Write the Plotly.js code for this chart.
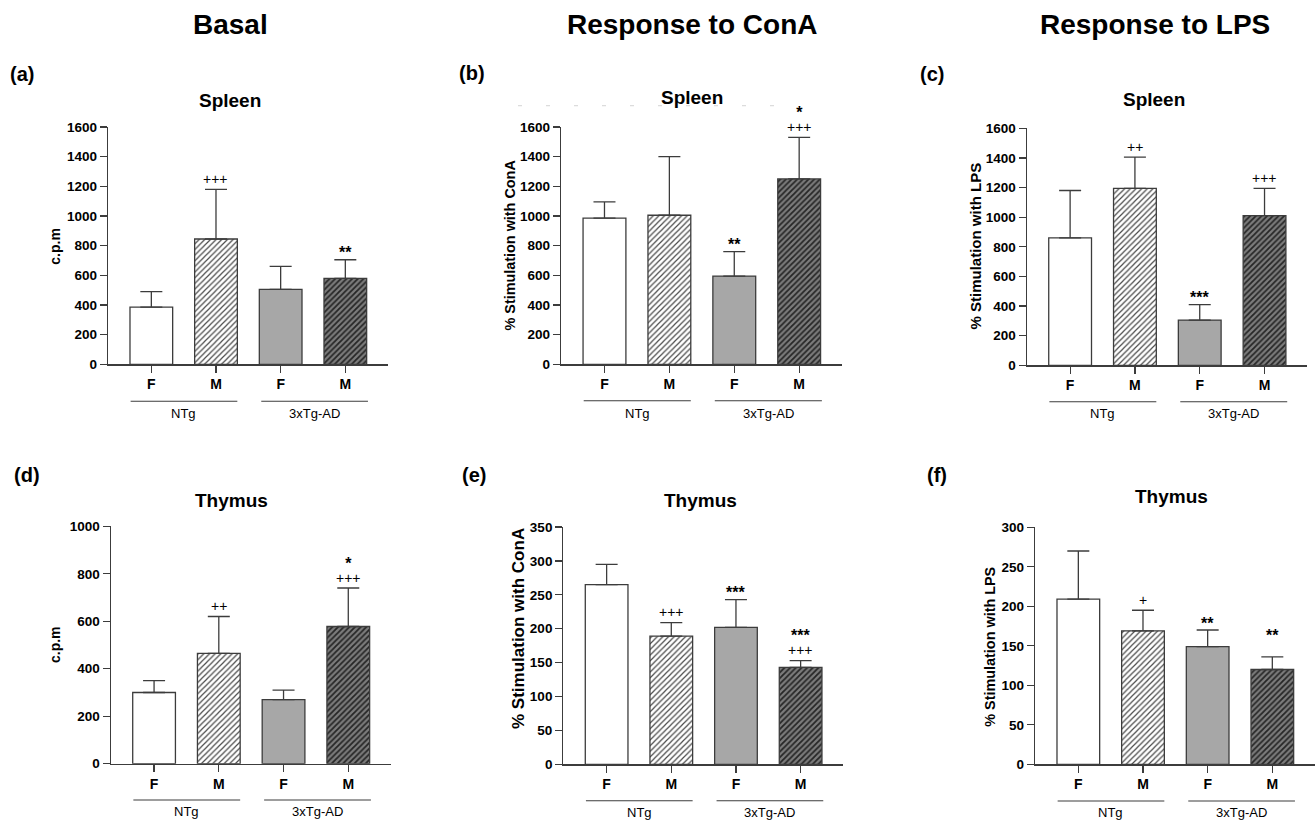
<!DOCTYPE html>
<html>
<head>
<meta charset="utf-8">
<script src="https://cdn.plot.ly/plotly-3.0.1.min.js"></script>
<style>html,body{margin:0;padding:0;background:#fff;}#chart{width:1315px;height:820px;}</style>
</head>
<body>
<div id="chart"></div>
<script>
// ---------------- DATA ----------------
const sexLabels = ['F', 'M', 'F', 'M'];
const genotypeLabels = ['NTg', '3xTg-AD'];
const columnTitles = ['Basal', 'Response to ConA', 'Response to LPS'];
const organTitles = ['Spleen', 'Spleen', 'Spleen', 'Thymus', 'Thymus', 'Thymus'];
const panelLetters = ['(a)', '(b)', '(c)', '(d)', '(e)', '(f)'];
const yTitles = ['c.p.m', '% Stimulation with ConA', '% Stimulation with LPS',
                 'c.p.m', '% Stimulation with ConA', '% Stimulation with LPS'];

const spleenBasalMean = [385, 845, 505, 580];
const spleenBasalSD   = [105, 335, 155, 125];
const spleenConAMean  = [985, 1005, 595, 1250];
const spleenConASD    = [110, 395, 165, 280];
const spleenLPSMean   = [860, 1195, 305, 1010];
const spleenLPSSD     = [320, 210, 105, 185];
const thymusBasalMean = [300, 465, 270, 578];
const thymusBasalSD   = [50, 155, 40, 162];
const thymusConAMean  = [265, 189, 202, 143];
const thymusConASD    = [30, 20, 41, 10];
const thymusLPSMean   = [209, 169, 149, 120];
const thymusLPSSD     = [61, 26, 21, 16];

// significance marks (+ vs sex, * vs genotype)
const spleenBasalPlus = ['', '+++', '', ''];
const spleenBasalStar = ['', '', '', '**'];
const spleenConAPlus  = ['', '', '', '+++'];
const spleenConAStar  = ['', '', '**', '*'];
const spleenLPSPlus   = ['', '++', '', '+++'];
const spleenLPSStar   = ['', '', '***', ''];
const thymusBasalPlus = ['', '++', '', '+++'];
const thymusBasalStar = ['', '', '', '*'];
const thymusConAPlus  = ['', '+++', '', '+++'];
const thymusConAStar  = ['', '', '***', '***'];
const thymusLPSPlus   = ['', '+', '', ''];
const thymusLPSStar   = ['', '', '**', '**'];

const yMax  = [1600, 1600, 1600, 1000, 350, 300];
const yStep = [200, 200, 200, 200, 50, 50];

// ---------------- LAYOUT (pixels) ----------------
const W = 1315, H = 820;
const px = v => v / W;
const py = v => 1 - v / H;

const means = [spleenBasalMean, spleenConAMean, spleenLPSMean, thymusBasalMean, thymusConAMean, thymusLPSMean];
const sds   = [spleenBasalSD, spleenConASD, spleenLPSSD, thymusBasalSD, thymusConASD, thymusLPSSD];
const pluses = [spleenBasalPlus, spleenConAPlus, spleenLPSPlus, thymusBasalPlus, thymusConAPlus, thymusLPSPlus];
const stars  = [spleenBasalStar, spleenConAStar, spleenLPSStar, thymusBasalStar, thymusConAStar, thymusLPSStar];

const geom = [
  {xd:[108,388],      yd:[127,364.3],   title:[230,100.7],   letter:[8,74],   yt:[55,245.7],  ytfs:14,   lineY:401.3, labY:413.3},
  {xd:[561,842],      yd:[127,364.3],   title:[691.7,97.3],  letter:[457,73], yt:[510,245.5], ytfs:14.4, lineY:400.8, labY:413},
  {xd:[1026.7,1307.3],yd:[128.3,365.3], title:[1154,99.3],   letter:[918,74], yt:[975,246.5], ytfs:15,   lineY:401.7, labY:413.5},
  {xd:[110.7,391],    yd:[526.3,763.7], title:[232,500],     letter:[12,475], yt:[55,644],    ytfs:14,   lineY:800,   labY:811.7},
  {xd:[563.3,843.3],  yd:[527,764.3],   title:[700.5,500.7], letter:[460,475],yt:[518,629],   ytfs:17,   lineY:800.7, labY:812.5},
  {xd:[1035,1315],    yd:[527.3,764.3], title:[1171.7,496.7],letter:[925,475],yt:[990,646.7], ytfs:14.4, lineY:801,   labY:812},
];
const headerPos = [[230,24],[692,24],[1155,24]];
const starExtra = [[0,0,0,0],[0,0,0,0],[0,0,0,0],[0,0,0,0],[0,0,0,0],[0,0,0,14]];

const FONT = 'Liberation Sans, Arial, Helvetica, sans-serif';
const EDGE = '#3c3c3c';

// bar styles by position: NTg F, NTg M, 3xTg F, 3xTg M
const barStyles = [
  {color: '#ffffff'},
  {color: '#ffffff', pattern: {shape: '/', fgcolor: '#4a4a4a', bgcolor: '#ffffff', size: 4, solidity: 0.3}},
  {color: '#a7a7a7'},
  {color: '#6e6e6e', pattern: {shape: '/', fgcolor: '#262626', bgcolor: '#7c7c7c', size: 4, solidity: 0.45}}
];

const traces = [];
const layout = {
  width: W, height: H,
  margin: {l:0, r:0, t:0, b:0},
  paper_bgcolor: '#ffffff', plot_bgcolor: 'rgba(0,0,0,0)',
  showlegend: false, barmode: 'overlay',
  font: {family: FONT, color: '#000'},
  annotations: [], shapes: []
};

for (let i = 0; i < 6; i++) {
  const g = geom[i];
  const sfx = i === 0 ? '' : String(i + 1);
  const xa = 'x' + sfx, ya = 'y' + sfx;
  for (let j = 0; j < 4; j++) {
    const st = barStyles[j];
    const marker = {color: st.color, line: {color: EDGE, width: 1.3}};
    if (st.pattern) marker.pattern = Object.assign({fillmode: 'replace'}, st.pattern);
    traces.push({
      type: 'bar', x: [j], y: [means[i][j]], width: 0.66,
      xaxis: xa, yaxis: ya, showlegend: false, hoverinfo: 'skip', opacity: 1,
      marker: marker,
      error_y: {type: 'data', symmetric: false, array: [sds[i][j]], arrayminus: [0],
                color: EDGE, thickness: 1.3, width: 11}
    });
  }
  layout['xaxis' + sfx] = {
    domain: [px(g.xd[0]), px(g.xd[1])], anchor: ya,
    range: [-0.67, 3.66], tickmode: 'array', tickvals: [0, 1, 2, 3], ticktext: sexLabels,
    ticks: 'outside', ticklen: 7, tickwidth: 1.2, tickcolor: EDGE,
    showline: true, linecolor: EDGE, linewidth: 1.2,
    showgrid: false, zeroline: false, fixedrange: true,
    tickfont: {family: FONT, size: 14, weight: 'bold', color: '#000'}
  };
  layout['yaxis' + sfx] = {
    domain: [py(g.yd[1]), py(g.yd[0])], anchor: xa,
    range: [0, yMax[i]], tickmode: 'linear', tick0: 0, dtick: yStep[i],
    ticks: 'outside', ticklen: 7, tickwidth: 1.2, tickcolor: EDGE,
    showline: true, linecolor: EDGE, linewidth: 1.2,
    showgrid: false, zeroline: false, fixedrange: true,
    tickfont: {family: FONT, size: 13.5, weight: 'bold', color: '#000'}
  };
  layout.annotations.push({xref: 'paper', yref: 'paper', x: px(g.title[0]), y: py(g.title[1]),
    xanchor: 'center', yanchor: 'middle', showarrow: false,
    text: '<b>' + organTitles[i] + '</b>', font: {family: FONT, size: 19, color: '#000'}});
  layout.annotations.push({xref: 'paper', yref: 'paper', x: px(g.letter[0]), y: py(g.letter[1]),
    xanchor: 'left', yanchor: 'middle', showarrow: false,
    text: '<b>' + panelLetters[i] + '</b>', font: {family: FONT, size: 20, color: '#000'}});
  layout.annotations.push({xref: 'paper', yref: 'paper', x: px(g.yt[0]), y: py(g.yt[1]),
    xanchor: 'center', yanchor: 'middle', showarrow: false, textangle: -90,
    text: '<b>' + yTitles[i] + '</b>', font: {family: FONT, size: g.ytfs, color: '#000'}});
  const spans = [[-0.32, 1.33], [1.70, 3.35]];
  for (let k = 0; k < 2; k++) {
    layout.shapes.push({type: 'line', xref: xa, yref: 'paper',
      x0: spans[k][0], x1: spans[k][1], y0: py(g.lineY), y1: py(g.lineY),
      line: {color: EDGE, width: 1.1}});
    layout.annotations.push({xref: xa, yref: 'paper', x: (spans[k][0] + spans[k][1]) / 2, y: py(g.labY),
      xanchor: 'center', yanchor: 'middle', showarrow: false,
      text: genotypeLabels[k], font: {family: FONT, size: 13, color: '#000'}});
  }
  for (let j = 0; j < 4; j++) {
    const top = means[i][j] + sds[i][j];
    const p = pluses[i][j], s = stars[i][j];
    if (p && s) {
      layout.annotations.push({xref: xa, yref: ya, x: j, y: top, xanchor: 'center', yanchor: 'bottom',
        yshift: 0.5, showarrow: false,
        text: '<span style="font-size:16px"><b>' + s + '</b></span><br><span style="font-size:14px">' + p + '</span>',
        font: {family: FONT, size: 11, color: '#000'}});
    } else if (p) {
      layout.annotations.push({xref: xa, yref: ya, x: j, y: top, xanchor: 'center', yanchor: 'middle',
        yshift: 10.5, showarrow: false, text: p, font: {family: FONT, size: 14, color: '#000'}});
    } else if (s) {
      layout.annotations.push({xref: xa, yref: ya, x: j, y: top, xanchor: 'center', yanchor: 'middle',
        yshift: 7 + starExtra[i][j], showarrow: false,
        text: '<b>' + s + '</b>', font: {family: FONT, size: 16, color: '#000'}});
    }
  }
}
for (let c = 0; c < 3; c++) {
  layout.annotations.push({xref: 'paper', yref: 'paper', x: px(headerPos[c][0]), y: py(headerPos[c][1]),
    xanchor: 'center', yanchor: 'middle', showarrow: false,
    text: '<b>' + columnTitles[c] + '</b>', font: {family: FONT, size: 28, color: '#000'}});
}
layout.shapes.push({type: 'line', xref: 'paper', yref: 'paper', x0: px(518), x1: px(777), y0: py(105.7), y1: py(105.7),
  line: {color: '#dcdcdc', width: 1.2, dash: '4px,24px'}});

Plotly.newPlot('chart', traces, layout, {staticPlot: true, displayModeBar: false});
</script>
</body>
</html>
